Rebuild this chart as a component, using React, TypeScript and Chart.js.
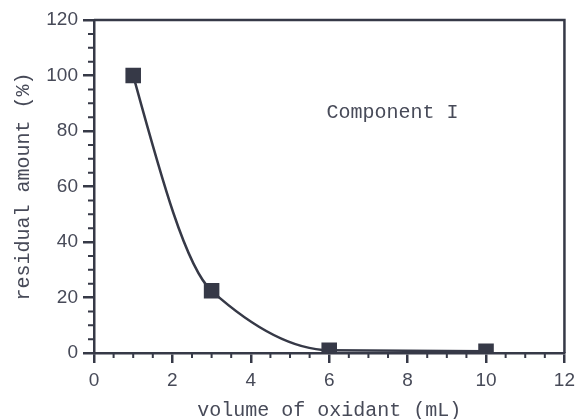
import React, { useEffect, useRef } from "react";
import { Chart, registerables } from "chart.js";

Chart.register(...registerables);

// Oxidation series: residual fraction of component I versus oxidant added
const oxidantVolume = [1, 3, 6, 10];
const residualAmount = [100, 22.4, 1.0, 0.6];

const xTicks = [0, 2, 4, 6, 8, 10, 12];
const yTicks = [0, 20, 40, 60, 80, 100, 120];
const xMinorStep = 0.5;
const yMinorStep = 5;

const INK = "#363947";
const TEXT = "#474a58";

// Shape-preserving (PCHIP, harmonic-mean) tangents for the smooth curve,
// written into the line's bezier control points.
const pchipPlugin = {
  id: "pchipCurve",
  beforeDatasetsDraw(chart: any) {
    const meta = chart.getDatasetMeta(0);
    const line = meta.dataset;
    const pts = meta.data;
    if (!line || pts.length < 2) return;
    line.updateControlPoints(chart.chartArea, "x");
    const n = pts.length;
    const h: number[] = [];
    const d: number[] = [];
    for (let i = 0; i < n - 1; i++) {
      h.push(pts[i + 1].x - pts[i].x);
      d.push((pts[i + 1].y - pts[i].y) / h[i]);
    }
    const m: number[] = new Array(n).fill(0);
    for (let i = 1; i < n - 1; i++) {
      if (d[i - 1] * d[i] <= 0) {
        m[i] = 0;
      } else {
        const w1 = 2 * h[i] + h[i - 1];
        const w2 = h[i] + 2 * h[i - 1];
        m[i] = (w1 + w2) / (w1 / d[i - 1] + w2 / d[i]);
      }
    }
    const endSlope = (h0: number, h1: number, d0: number, d1: number) => {
      let s = ((2 * h0 + h1) * d0 - h0 * d1) / (h0 + h1);
      if (Math.sign(s) !== Math.sign(d0)) s = 0;
      else if (Math.sign(d0) !== Math.sign(d1) && Math.abs(s) > Math.abs(3 * d0)) s = 3 * d0;
      return s;
    };
    m[0] = n > 2 ? endSlope(h[0], h[1], d[0], d[1]) : d[0];
    m[n - 1] = n > 2 ? endSlope(h[n - 2], h[n - 3], d[n - 2], d[n - 3]) : d[n - 2];
    for (let i = 0; i < n; i++) {
      const p = pts[i];
      if (i > 0) {
        const k = h[i - 1] / 3;
        p.cp1x = p.x - k;
        p.cp1y = p.y - k * m[i];
      }
      if (i < n - 1) {
        const k = h[i] / 3;
        p.cp2x = p.x + k;
        p.cp2y = p.y + k * m[i];
      }
    }
    line._path = undefined;
  },
};

// Short minor tick marks plus the closing frame on the top and right edges
const framePlugin = {
  id: "frameAndMinorTicks",
  afterDraw(chart: any) {
    const { ctx, chartArea, scales } = chart;
    const xs = scales.x;
    const ys = scales.y;
    ctx.save();
    ctx.strokeStyle = INK;
    ctx.lineWidth = 2.5;
    ctx.beginPath();
    ctx.moveTo(chartArea.left, chartArea.top);
    ctx.lineTo(chartArea.right, chartArea.top);
    ctx.lineTo(chartArea.right, chartArea.bottom);
    ctx.stroke();

    ctx.lineWidth = 2;
    ctx.beginPath();
    for (let v = xs.min; v <= xs.max + 1e-9; v += xMinorStep) {
      if (xTicks.includes(Math.round(v * 100) / 100)) continue;
      const px = xs.getPixelForValue(v);
      ctx.moveTo(px, chartArea.bottom);
      ctx.lineTo(px, chartArea.bottom + 5);
    }
    for (let v = ys.min; v <= ys.max + 1e-9; v += yMinorStep) {
      if (yTicks.includes(Math.round(v))) continue;
      const py = ys.getPixelForValue(v);
      ctx.moveTo(chartArea.left, py);
      ctx.lineTo(chartArea.left - 6, py);
    }
    ctx.stroke();

    // in-plot label
    ctx.fillStyle = TEXT;
    ctx.font = '20px "Liberation Mono", "Courier New", monospace';
    ctx.textAlign = "left";
    ctx.textBaseline = "middle";
    ctx.fillText("Component I", xs.getPixelForValue(5.93), ys.getPixelForValue(86.5));
    ctx.restore();
  },
};

export default function App() {
  const canvasRef = useRef<HTMLCanvasElement | null>(null);

  useEffect(() => {
    if (!canvasRef.current) return;
    const points = oxidantVolume.map((x, i) => ({ x, y: residualAmount[i] }));
    const chart = new Chart(canvasRef.current, {
      type: "line",
      data: {
        datasets: [
          {
            data: points,
            borderColor: INK,
            backgroundColor: INK,
            borderWidth: 2.5,
            tension: 0.4,
            pointStyle: "rect",
            pointRadius: 11,
            pointBorderWidth: 0,
            clip: 0,
          },
        ],
      },
      options: {
        animation: false,
        responsive: true,
        maintainAspectRatio: false,
        layout: { padding: { top: 20, right: 14, left: 0, bottom: 0 } },
        plugins: { legend: { display: false }, tooltip: { enabled: false } },
        scales: {
          x: {
            type: "linear",
            min: 0,
            max: 12,
            afterFit: (s: any) => {
              s.height = 66;
            },
            afterBuildTicks: (s: any) => {
              s.ticks = xTicks.map((v) => ({ value: v }));
            },
            ticks: {
              color: TEXT,
              padding: 6,
              maxRotation: 0,
              font: { family: '"Liberation Sans", Arial, sans-serif', size: 19 },
            },
            grid: { drawOnChartArea: false, drawTicks: true, tickLength: 10, color: INK, lineWidth: 2.5 },
            border: { display: true, color: INK, width: 2.5 },
            title: {
              display: true,
              text: "volume of oxidant (mL)",
              color: TEXT,
              padding: { top: 0, bottom: -4 },
              font: { family: '"Liberation Mono", "Courier New", monospace', size: 20 },
            },
          },
          y: {
            type: "linear",
            min: 0,
            max: 120,
            afterFit: (s: any) => {
              s.width = 94;
            },
            afterBuildTicks: (s: any) => {
              s.ticks = yTicks.map((v) => ({ value: v }));
            },
            ticks: {
              color: TEXT,
              padding: 5,
              font: { family: '"Liberation Sans", Arial, sans-serif', size: 19 },
            },
            grid: { drawOnChartArea: false, drawTicks: true, tickLength: 11, color: INK, lineWidth: 2.5 },
            border: { display: true, color: INK, width: 2.5 },
            title: {
              display: true,
              text: "residual amount (%)",
              color: TEXT,
              padding: { top: 12, bottom: 0 },
              font: { family: '"Liberation Mono", "Courier New", monospace', size: 20 },
            },
          },
        },
      },
      plugins: [pchipPlugin, framePlugin],
    });
    return () => chart.destroy();
  }, []);

  return (
    <div style={{ position: "fixed", left: 0, top: 0, width: 581, height: 419, background: "#ffffff" }}>
      <canvas ref={canvasRef} />
    </div>
  );
}
